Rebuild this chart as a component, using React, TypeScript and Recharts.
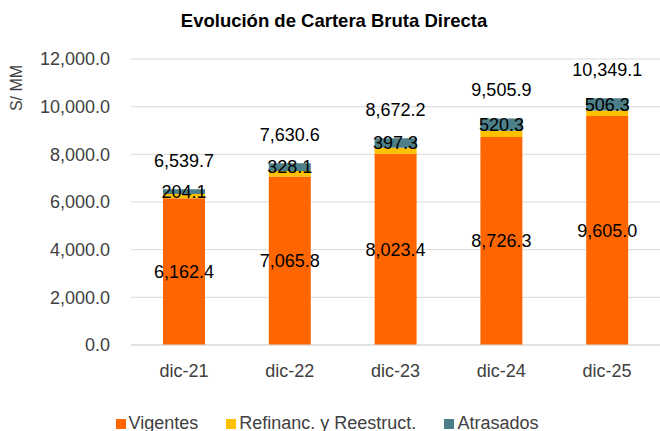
import { Bar, BarChart, CartesianGrid, LabelList, Legend, XAxis, YAxis } from "recharts";

const categories = ["dic-21", "dic-22", "dic-23", "dic-24", "dic-25"];
const vigentes = [6162.4, 7065.8, 8023.4, 8726.3, 9605.0];
const refinanciados = [173.2, 236.7, 251.5, 259.3, 237.8];
const atrasados = [204.1, 328.1, 397.3, 520.3, 506.3];
const totals = [6539.7, 7630.6, 8672.2, 9505.9, 10349.1];
const yTicks = [0, 2000, 4000, 6000, 8000, 10000, 12000];

const VIG_COLOR = "#FF6600";
const REF_COLOR = "#FFC000";
const ATR_COLOR = "#4D7F89";
const FONT = "'Liberation Sans', Arial, sans-serif";

const fmt = (v: number) =>
  v.toLocaleString("en-US", { minimumFractionDigits: 1, maximumFractionDigits: 1 });

const legendItems = [
  { name: "Vigentes", color: VIG_COLOR },
  { name: "Refinanc. y Reestruct.", color: REF_COLOR },
  { name: "Atrasados", color: ATR_COLOR },
];

function LegendContent() {
  return (
    <div
      style={{
        height: 30,
        boxSizing: "border-box",
        paddingTop: 13,
        paddingRight: 6,
        display: "flex",
        justifyContent: "center",
        gap: 28,
        fontSize: 18,
        lineHeight: "18px",
        color: "#404040",
        fontFamily: FONT,
        whiteSpace: "nowrap",
      }}
    >
      {legendItems.map((item) => (
        <span key={item.name} style={{ display: "flex", alignItems: "center" }}>
          <span style={{ width: 10, height: 10, background: item.color, marginRight: 3, marginTop: 3 }} />
          {item.name}
        </span>
      ))}
    </div>
  );
}

function TotalLabel(props: any) {
  const { x, y, width, index } = props;
  return (
    <text
      x={Number(x) + Number(width) / 2}
      y={Number(y) - 28}
      textAnchor="middle"
      dominantBaseline="central"
      fontSize={18}
      fill="#000"
      fontFamily={FONT}
    >
      {fmt(totals[index])}
    </text>
  );
}

export default function App() {
  const data = categories.map((name, i) => ({
    name,
    vigentes: vigentes[i],
    refinanciados: refinanciados[i],
    atrasados: atrasados[i],
  }));

  return (
    <div
      style={{
        position: "absolute",
        left: 0,
        top: 0,
        width: 660,
        height: 431,
        background: "#fff",
        fontFamily: FONT,
        overflow: "hidden",
      }}
    >
      <div
        style={{
          position: "absolute",
          top: 12,
          left: 0,
          width: 668,
          textAlign: "center",
          fontSize: 18.5,
          lineHeight: "18.5px",
          fontWeight: "bold",
          color: "#000",
        }}
      >
        Evolución de Cartera Bruta Directa
      </div>
      <div
        style={{
          position: "absolute",
          left: 17,
          top: 88,
          transform: "translate(-50%, -50%) rotate(-90deg)",
          fontSize: 16,
          color: "#404040",
          whiteSpace: "nowrap",
        }}
      >
        S/ MM
      </div>
      <BarChart
        width={660}
        height={431}
        data={data}
        margin={{ top: 59, right: 0, bottom: 0, left: 0 }}
        barSize={42}
      >
        <CartesianGrid vertical={false} stroke="#D9D9D9" />
        <XAxis
          dataKey="name"
          height={56}
          tickLine={false}
          axisLine={{ stroke: "#D9D9D9" }}
          tickMargin={13}
          tick={{ fontSize: 18, fill: "#404040", fontFamily: FONT }}
        />
        <YAxis
          width={131}
          domain={[0, 12000]}
          ticks={yTicks}
          tickLine={false}
          axisLine={false}
          tickMargin={15}
          tickFormatter={fmt}
          tick={{ fontSize: 18, fill: "#404040", fontFamily: FONT }}
        />
        <Legend verticalAlign="bottom" height={30} content={<LegendContent />} />
        <Bar dataKey="vigentes" name="Vigentes" stackId="a" fill={VIG_COLOR} isAnimationActive={false}>
          <LabelList
            dataKey="vigentes"
            position="center"
            formatter={(v: any) => fmt(Number(v))}
            style={{ fontSize: 18, fill: "#000", fontFamily: FONT }}
          />
        </Bar>
        <Bar
          dataKey="refinanciados"
          name="Refinanc. y Reestruct."
          stackId="a"
          fill={REF_COLOR}
          isAnimationActive={false}
        />
        <Bar dataKey="atrasados" name="Atrasados" stackId="a" fill={ATR_COLOR} isAnimationActive={false}>
          <LabelList
            dataKey="atrasados"
            position="center"
            formatter={(v: any) => fmt(Number(v))}
            style={{ fontSize: 18, fill: "#000", fontFamily: FONT }}
          />
          <LabelList dataKey="atrasados" content={<TotalLabel />} />
        </Bar>
      </BarChart>
    </div>
  );
}
